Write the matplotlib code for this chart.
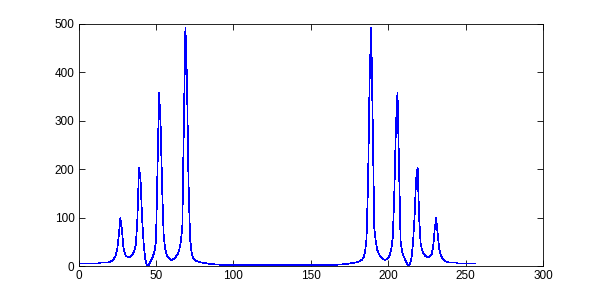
# Spectrum magnitude plot, MATLAB style

import numpy as np
import matplotlib
matplotlib.use('Agg')
import matplotlib.pyplot as plt

# magnitude, one value per bin (bins 1..256)
magnitude = [
    5.5, 5.5, 5.5, 5.5, 5.5, 5.5, 5.5, 5.5, 5.5, 5.5, 5.5, 5.5, 5.5,   # 1-13
    7.5, 7.5, 7.5, 7.5, 7.5, 7.5, 8.5, 10, 12, 16, 22, 35,           # 14-25
    65, 99, 75, 38, 24, 20, 19, 19, 21, 25, 32, 45,                  # 26-37
    98, 204, 179, 100, 47, 16, 3, 1, 6, 13, 20, 30,                  # 38-49
    52, 209, 358, 289, 157, 60, 35, 22, 17, 14, 13, 14,              # 50-61
    16, 20, 25, 33, 50, 80, 295, 493, 386, 174, 57, 28,              # 62-73
    17, 13, 11, 9.5, 8.5, 7.5, 7, 6.5, 6, 5.5, 5, 4.5,               # 74-85
    4.5, 4, 3.5, 3.5, 3, 3, 2.5, 2.5, 2.5, 2.5, 2.5, 2.5,            # 86-97
    2.5, 2.5, 2.5, 2, 2, 2, 2, 2, 2, 2, 2, 2,                        # 98-109
    2, 2, 2, 2, 2, 2, 2, 2, 2, 2, 2, 2,                              # 110-121
    2, 2, 2, 2, 2, 2, 2, 2, 2, 2, 2, 2,                              # 122-133
    2, 2, 2, 2, 2, 2, 2, 2, 2, 2, 2, 2,                              # 134-145
    2, 2, 2, 2, 2, 2, 2, 2, 2, 2, 2, 2,                              # 146-157
    2.5, 2.5, 2.5, 2.5, 2.5, 2.5, 2.5, 2.5, 2.5, 3, 3, 3.5,          # 158-169
    3.5, 4, 4.5, 4.5, 5, 5.5, 6, 6.5, 7, 7.5, 8.5, 9.5,              # 170-181
    11, 13, 17, 28, 57, 174, 386, 493, 295, 80, 50, 33,              # 182-193
    25, 20, 16, 14, 13, 14, 17, 22, 35, 60, 157, 289,                # 194-205
    358, 209, 52, 30, 20, 13, 6, 1, 3, 16, 47, 100,                  # 206-217
    179, 204, 98, 45, 32, 25, 21, 19, 19, 20, 24, 38,                # 218-229
    75, 99, 65, 35, 22, 16, 12, 10, 8.5, 7.5, 7.5, 7.5,              # 230-241
    7.5, 7.5, 7.5, 5.5, 5.5, 5.5, 5.5, 5.5, 5.5, 5.5, 5.5, 5.5,      # 242-253
    5.5, 5.5, 5.5,                                                   # 254-256
]
bins = np.arange(1, len(magnitude) + 1)

x_ticks = [0, 50, 100, 150, 200, 250, 300]
y_ticks = [0, 100, 200, 300, 400, 500]

plt.rcParams['font.family'] = ['Liberation Sans', 'DejaVu Sans']

fig = plt.figure(figsize=(6, 3), dpi=100)
ax = fig.add_axes([0.131, 0.113, 0.774, 0.807])
ax.plot(bins, magnitude, color=(0, 0, 1), linewidth=0.5, antialiased=False)

ax.set_xlim(0, 300)
ax.set_ylim(0, 500)
ax.set_xticks(x_ticks)
ax.set_yticks(y_ticks)
ax.tick_params(direction='in', length=4, width=0.6, labelsize=8.5,
               top=True, right=True, pad=3)
for s in ax.spines.values():
    s.set_linewidth(0.6)

fig.savefig('out.png', dpi=100)
